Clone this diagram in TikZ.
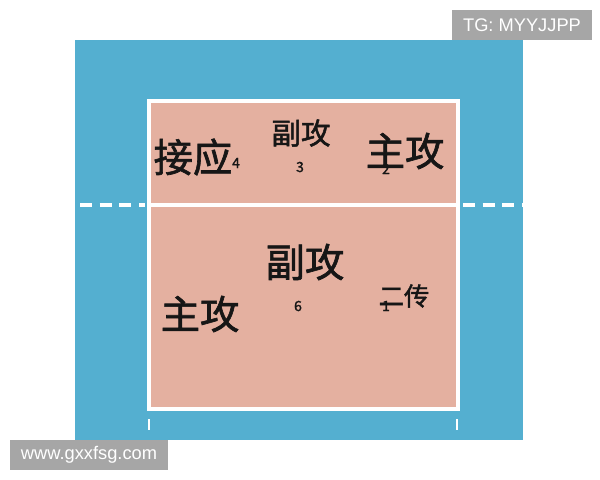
\documentclass[tikz,border=0pt]{standalone}
\usepackage{fontspec}
\setmainfont{Liberation Sans}
\newfontfamily\cjk{Noto Sans CJK SC}[FakeBold=1.6]
\definecolor{courtblue}{RGB}{84,175,208}
\definecolor{courtsalmon}{RGB}{228,176,160}
\definecolor{markgray}{RGB}{166,166,166}
\definecolor{inkblack}{RGB}{22,22,22}
\tikzset{
  bigpos/.style={inkblack,inner sep=0pt,font=\cjk\fontsize{28}{30}\selectfont},
  midpos/.style={inkblack,inner sep=0pt,font=\cjk\fontsize{21}{23}\selectfont},
  smallpos/.style={inkblack,inner sep=0pt,font=\cjk\fontsize{18}{20}\selectfont},
  posnum/.style={inkblack,inner sep=0pt,font=\cjk\fontsize{10}{11}\selectfont},
  courtline/.style={white,line width=2.6pt},
  sideline/.style={white,line width=2.2pt,dash pattern=on 8.5pt off 5.5pt},
  watermark/.style={fill=markgray,text=white,inner sep=0pt,minimum height=0.75cm,font=\fontsize{13}{14}\selectfont}
}
\begin{document}
\begin{tikzpicture}[x=0.025cm,y=-0.025cm]
            \useasboundingbox (0,0) rectangle (600,480);
            % court
            \fill[courtblue] (75,40) rectangle (523,440);
            \fill[courtsalmon] (149,101) rectangle (458,409);
            \draw[courtline] (149,101) rectangle (458,409);
            \draw[courtline,line width=3pt] (149,205) -- (458,205);
            \draw[sideline] (80,205) -- (145,205);
            \draw[sideline] (463,205) -- (523,205);
            \draw[white,line width=2pt] (149,419) -- (149,430);
            \draw[white,line width=2pt] (457,419) -- (457,430);

            % front row
            \node[posnum] (n4) at (236,163){4};
            \node[bigpos] (jieying) at (193,157){接应};
            \node[midpos] (fugong1) at (301,133){副攻};
            \node[posnum] (n3) at (300,167){3};
            \node[posnum] (n2) at (386,169){2};
            \node[bigpos] (zhugong1) at (405,151){主攻};

            % back row
            \node[bigpos] (fugong2) at (305,262){副攻};
            \node[posnum] (n6) at (298,306){6};
            \node[posnum] (n1) at (386,306){1};
            \node[smallpos] (erchuan) at (404,296){二传};
            \node[bigpos] (zhugong2) at (200,314){主攻};

            % marks
            \node[watermark,minimum width=3.5cm] (tg) at (522,25){TG: MYYJJPP};
            \node[watermark,minimum width=3.95cm] (site) at (89,455){www.gxxfsg.com};
\end{tikzpicture}
\end{document}
